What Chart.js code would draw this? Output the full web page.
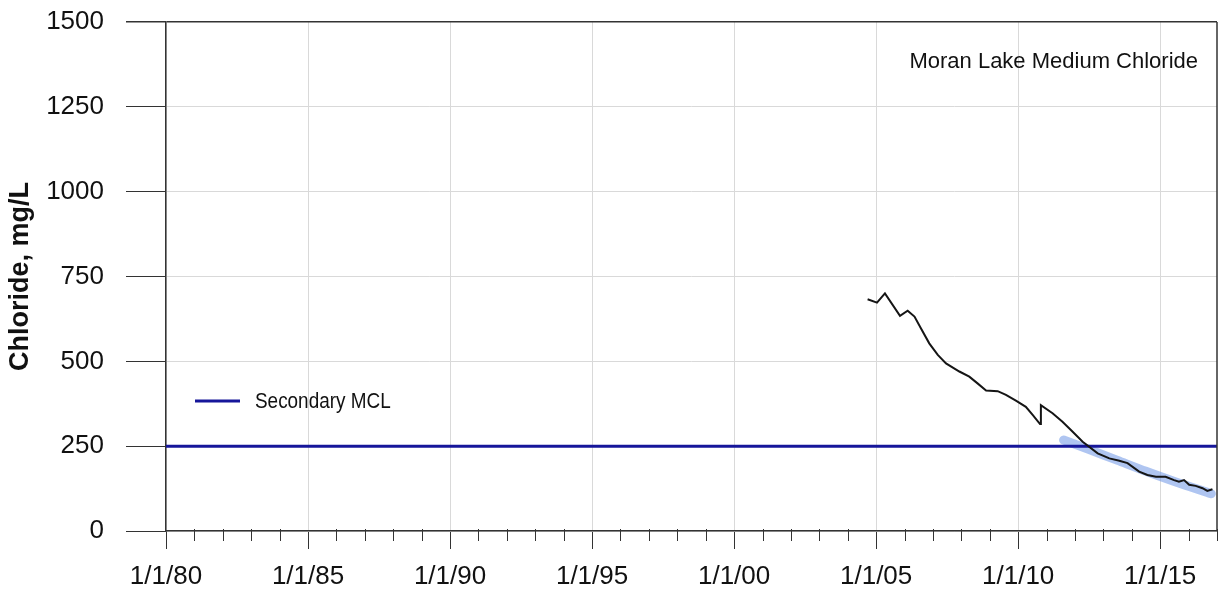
<!DOCTYPE html>
<html>
<head>
<meta charset="utf-8">
<script src="https://cdn.jsdelivr.net/npm/chart.js@4.4.1/dist/chart.umd.min.js"></script>
<style>
  body { margin: 0; background: #fff; }
</style>
</head>
<body>
<canvas id="myChart" width="1225" height="605"></canvas>
<script>
// chloride samples (decimal year, mg/L)
const sampleDates = [2004.70, 2005.03, 2005.31, 2005.84, 2006.11, 2006.35, 2006.58, 2006.87, 2007.17, 2007.46,
    2007.93, 2008.28, 2008.57, 2008.87, 2009.28, 2009.57, 2009.92, 2010.27, 2010.51, 2010.77,
    2010.80, 2011.21, 2011.56, 2011.91, 2012.27, 2012.80, 2013.21, 2013.56, 2013.85, 2014.26,
    2014.55, 2014.85, 2015.19, 2015.49, 2015.66, 2015.84, 2016.02, 2016.25, 2016.49, 2016.66, 2016.84];
const chlorideValues = [683, 673, 700, 634, 649, 632, 597, 553, 519, 494,
    470, 455, 435, 414, 412, 401, 384, 366, 342, 315,
    371, 347, 322, 293, 263, 229, 214, 207, 200, 175,
    165, 160, 160, 150, 145, 150, 136, 133, 126, 118, 123];

// light blue trend band
const trendDates = [2011.6, 2012.5, 2013.5, 2014.5, 2015.5, 2016.8];
const trendValues = [268, 240, 208, 176, 146, 110];

// secondary MCL
const mclDates = [1980, 2017];
const mclValues = [250, 250];

// axes
const yearTicks = [1980, 1985, 1990, 1995, 2000, 2005, 2010, 2015];
const yearLabels = ['1/1/80', '1/1/85', '1/1/90', '1/1/95', '1/1/00', '1/1/05', '1/1/10', '1/1/15'];
const chlorideTicks = [0, 250, 500, 750, 1000, 1250, 1500];

function toPoints(xs, ys) {
    return xs.map((x, i) => ({ x: x, y: ys[i] }));
}

const AXIS = '#333333';
const GRID = '#d9d9d9';
const MCL_COLOR = '#16169a';

// minor year ticks, right border, title and legend
const extras = {
    id: 'extras',
    afterDraw(chart) {
        const ctx = chart.ctx;
        const area = chart.chartArea;
        const x = chart.scales.x;
        ctx.save();
        ctx.strokeStyle = AXIS;
        ctx.lineWidth = 1;
        for (let yr = Math.ceil(x.min); yr <= x.max; yr++) {
            if (yearTicks.includes(yr)) continue;
            const px = Math.round(x.getPixelForValue(yr)) + 0.5;
            ctx.beginPath();
            ctx.moveTo(px, area.bottom - 2);
            ctx.lineTo(px, area.bottom + 10);
            ctx.stroke();
        }
        ctx.lineWidth = 1.5;
        ctx.beginPath();
        ctx.moveTo(area.right, area.top);
        ctx.lineTo(area.right, area.bottom);
        ctx.stroke();

        ctx.fillStyle = '#111';
        ctx.font = '22px "Liberation Sans", Arial, sans-serif';
        ctx.textAlign = 'right';
        ctx.textBaseline = 'middle';
        ctx.fillText('Moran Lake Medium Chloride', 1198, 62);

        ctx.strokeStyle = MCL_COLOR;
        ctx.lineWidth = 3;
        ctx.beginPath();
        ctx.moveTo(195, 401);
        ctx.lineTo(240, 401);
        ctx.stroke();
        // narrow legend text
        ctx.translate(255, 402);
        ctx.scale(0.86, 1);
        ctx.font = '22px "Liberation Sans", Arial, sans-serif';
        ctx.textAlign = 'left';
        ctx.fillText(chart.data.datasets[1].label, 0, 0);
        ctx.restore();
    }
};

const chart = new Chart(document.getElementById('myChart'), {
    type: 'line',
    data: {
        datasets: [{
            label: 'Chloride',
            data: toPoints(sampleDates, chlorideValues),
            borderColor: '#151515',
            borderWidth: 2,
            pointRadius: 0,
            tension: 0,
            order: 0
        }, {
            label: 'Secondary MCL',
            data: toPoints(mclDates, mclValues),
            borderColor: MCL_COLOR,
            borderWidth: 3,
            pointRadius: 0,
            order: 1
        }, {
            label: 'Trend',
            data: toPoints(trendDates, trendValues),
            borderColor: 'rgba(110, 150, 230, 0.55)',
            borderWidth: 9,
            borderCapStyle: 'round',
            pointRadius: 0,
            tension: 0.3,
            order: 2
        }]
    },
    options: {
        responsive: false,
        animation: false,
        devicePixelRatio: 1,
        layout: { padding: { top: 22, right: 8, left: 0, bottom: 0 } },
        plugins: {
            legend: { display: false },
            tooltip: { enabled: false }
        },
        scales: {
            x: {
                type: 'linear',
                min: 1980,
                max: 2017,
                afterBuildTicks: (scale) => { scale.ticks = yearTicks.map(v => ({ value: v })); },
                afterFit: (scale) => { scale.height = 74; },
                ticks: {
                    autoSkip: false,
                    maxRotation: 0,
                    padding: 12,
                    color: '#111',
                    font: { family: '"Liberation Sans", Arial, sans-serif', size: 26 },
                    callback: (value) => yearLabels[yearTicks.indexOf(value)]
                },
                grid: {
                    color: GRID,
                    tickColor: AXIS,
                    tickLength: 18,
                    lineWidth: 1
                },
                border: { color: AXIS, width: 1.5 }
            },
            y: {
                min: 0,
                max: 1500,
                afterBuildTicks: (scale) => { scale.ticks = chlorideTicks.map(v => ({ value: v })); },
                afterFit: (scale) => {
                    scale.width = 166;
                    scale.paddingTop = 12;
                    scale.paddingBottom = 12;
                },
                ticks: {
                    padding: 22,
                    color: '#111',
                    font: { family: '"Liberation Sans", Arial, sans-serif', size: 26 },
                    callback: (value) => String(value)
                },
                grid: {
                    color: (c) => (c.tick && c.tick.value === 1500) ? AXIS : GRID,
                    tickColor: AXIS,
                    tickLength: 40,
                    lineWidth: (c) => (c.tick && c.tick.value === 1500) ? 1.5 : 1
                },
                border: { color: AXIS, width: 1.5 },
                title: {
                    display: true,
                    text: 'Chloride, mg/L',
                    color: '#111',
                    font: { family: '"Liberation Sans", Arial, sans-serif', size: 27, weight: 'bold' },
                    padding: { top: 4, bottom: 0 }
                }
            }
        }
    },
    plugins: [extras]
});
</script>
</body>
</html>
